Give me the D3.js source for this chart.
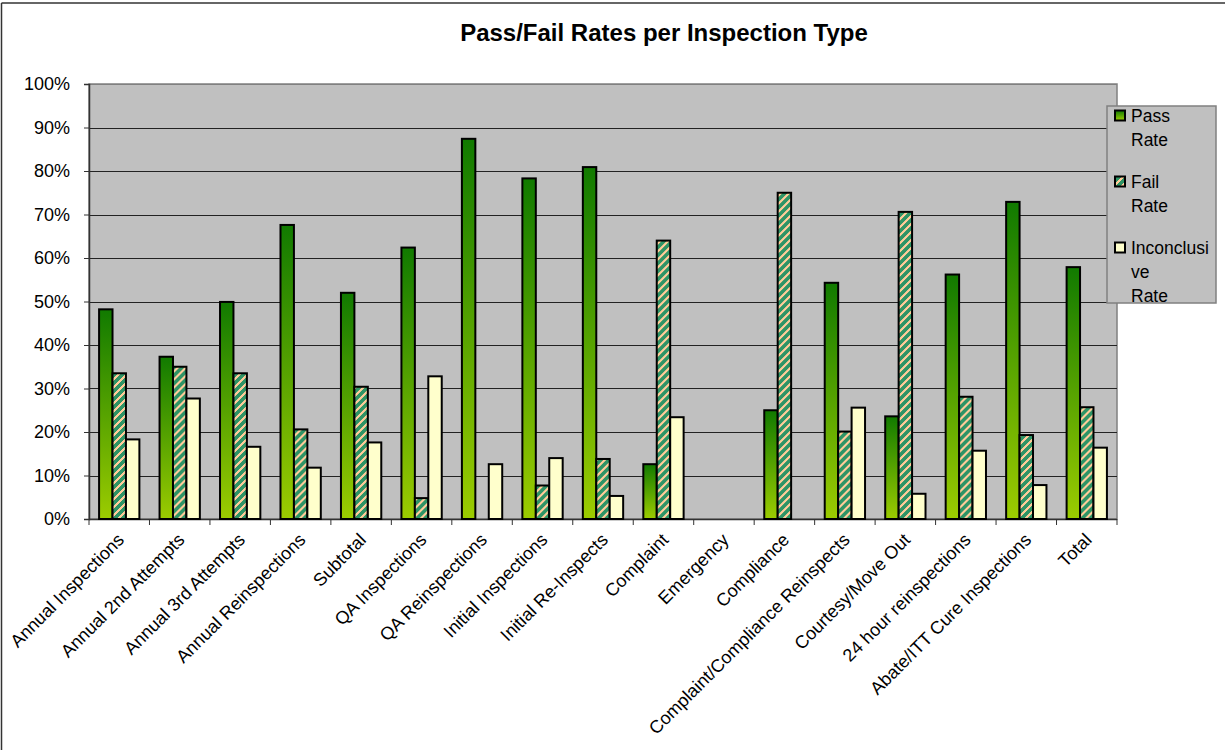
<!DOCTYPE html>
<html>
<head>
<meta charset="utf-8">
<script src="https://cdn.jsdelivr.net/npm/d3@7/dist/d3.min.js"></script>
<style>
  html, body { margin: 0; padding: 0; background: #fff; }
  svg { display: block; }
  text { font-family: "Liberation Sans", Arial, sans-serif; fill: #000; }
</style>
</head>
<body>
<svg id="chart" width="1225" height="750"></svg>
<script>
// Inspection categories and rates (percent)
const categories = [
  "Annual Inspections", "Annual 2nd Attempts", "Annual 3rd Attempts", "Annual Reinspections",
  "Subtotal", "QA Inspections", "QA Reinspections", "Initial Inspections", "Initial Re-Inspects",
  "Complaint", "Emergency", "Compliance", "Complaint/Compliance Reinspects", "Courtesy/Move Out",
  "24 hour reinspections", "Abate/ITT Cure Inspections", "Total"
];
const passRate = [48.2, 37.3, 49.9, 67.6, 52.0, 62.4, 87.4, 78.3, 80.9, 12.6, 0, 25.0, 54.3, 23.6, 56.2, 72.9, 57.9];
const failRate = [33.5, 35.0, 33.5, 20.6, 30.4, 4.8, 0, 7.7, 13.8, 64.0, 0, 75.0, 20.1, 70.6, 28.1, 19.3, 25.7];
const inconclusiveRate = [18.3, 27.7, 16.6, 11.8, 17.6, 32.8, 12.6, 14.0, 5.3, 23.4, 0, 0, 25.6, 5.8, 15.7, 7.8, 16.4];
const seriesNames = ["Pass Rate", "Fail Rate", "Inconclusive Rate"];
const yTicks = [0, 10, 20, 30, 40, 50, 60, 70, 80, 90, 100];

const series = [
  { name: seriesNames[0], values: passRate, fill: "url(#passGrad)" },
  { name: seriesNames[1], values: failRate, fill: "url(#failPattern)" },
  { name: seriesNames[2], values: inconclusiveRate, fill: "#FFFFCC" }
];

const svg = d3.select("#chart");
const plot = { left: 89, right: 1117, top: 84, bottom: 519 };

// Definitions: gradient for pass bars, diagonal hatch for fail bars
const defs = svg.append("defs");
const grad = defs.append("linearGradient")
  .attr("id", "passGrad").attr("x1", 0).attr("y1", 0).attr("x2", 0).attr("y2", 1);
grad.append("stop").attr("offset", "0%").attr("stop-color", "#117A00");
grad.append("stop").attr("offset", "100%").attr("stop-color", "#9CCC00");

const pat = defs.append("pattern")
  .attr("id", "failPattern").attr("patternUnits", "userSpaceOnUse")
  .attr("width", 8).attr("height", 8);
pat.append("rect").attr("width", 8).attr("height", 8).attr("fill", "#FFCC99");
pat.append("path")
  .attr("d", "M-1,9 L9,-1 M-3,3 L3,-3 M5,11 L11,5")
  .attr("stroke", "#2E9466").attr("stroke-width", 3)
  .attr("shape-rendering", "crispEdges");

// Outer chart frame (top and left edges visible)
svg.append("line").attr("x1", 1.5).attr("x2", 1225).attr("y1", 3).attr("y2", 3)
  .attr("stroke", "#333").attr("stroke-width", 1.5);
svg.append("line").attr("x1", 1.5).attr("x2", 1.5).attr("y1", 3).attr("y2", 750)
  .attr("stroke", "#333").attr("stroke-width", 1.5);

// Title
svg.append("text")
  .attr("x", 664).attr("y", 41)
  .attr("text-anchor", "middle")
  .attr("font-size", 24).attr("font-weight", "bold")
  .text("Pass/Fail Rates per Inspection Type");

// Scales
const x0 = d3.scaleBand().domain(categories).range([plot.left, plot.right]).paddingInner(0).paddingOuter(0);
const groupPad = 0.5 * 1.5 / (3 + 1.5);
const x1 = d3.scaleBand().domain(seriesNames)
  .range([x0.bandwidth() * groupPad, x0.bandwidth() * (1 - groupPad)]).padding(0);
const y = d3.scaleLinear().domain([0, 100]).range([plot.bottom, plot.top]);

// Plot background
svg.append("rect")
  .attr("x", plot.left).attr("y", plot.top)
  .attr("width", plot.right - plot.left).attr("height", plot.bottom - plot.top)
  .attr("fill", "#C0C0C0").attr("stroke", "#808080").attr("stroke-width", 1.5);

// Gridlines
svg.append("g").selectAll("line")
  .data(yTicks.filter(d => d > 0))
  .join("line")
  .attr("x1", plot.left).attr("x2", plot.right)
  .attr("y1", d => Math.round(y(d)) + 0.5).attr("y2", d => Math.round(y(d)) + 0.5)
  .attr("stroke", d => d === 100 ? "#808080" : "#222").attr("stroke-width", 1);

// Y axis
const yAxis = svg.append("g")
  .attr("transform", `translate(${plot.left},0)`)
  .call(d3.axisLeft(y).tickValues(yTicks).tickFormat(d => d + "%").tickSize(5).tickPadding(14));
yAxis.select(".domain").attr("stroke", "#333").attr("stroke-width", 1.5);
yAxis.selectAll(".tick line").attr("stroke", "#333");
yAxis.selectAll(".tick text")
  .attr("font-size", 18).attr("font-family", "Liberation Sans, Arial, sans-serif").attr("fill", "#000");

// X axis: ticks at band boundaries
const xAxisG = svg.append("g");
xAxisG.append("line")
  .attr("x1", plot.left).attr("x2", plot.right)
  .attr("y1", plot.bottom + 0.5).attr("y2", plot.bottom + 0.5)
  .attr("stroke", "#333").attr("stroke-width", 1.5);
const boundaries = categories.map(c => x0(c)).concat([plot.right]);
xAxisG.selectAll("line.tk")
  .data(boundaries)
  .join("line").attr("class", "tk")
  .attr("x1", d => d).attr("x2", d => d)
  .attr("y1", plot.bottom).attr("y2", plot.bottom + 6)
  .attr("stroke", "#333");

// Category labels rotated
xAxisG.selectAll("text.cat")
  .data(categories)
  .join("text").attr("class", "cat")
  .attr("font-size", 18)
  .attr("text-anchor", "end")
  .attr("transform", d => {
    const cx = x0(d) + x0.bandwidth() / 2 + 6;
    return `translate(${cx},541) rotate(-45)`;
  })
  .text(d => d);

// Bars
const groups = svg.append("g").selectAll("g")
  .data(categories)
  .join("g")
  .attr("transform", d => `translate(${x0(d)},0)`);

groups.selectAll("rect")
  .data((d, i) => series.map(s => ({ key: s.name, value: s.values[i], fill: s.fill })).filter(e => e.value > 0))
  .join("rect")
  .attr("x", d => x1(d.key))
  .attr("y", d => y(d.value))
  .attr("width", x1.bandwidth())
  .attr("height", d => y(0) - y(d.value))
  .attr("fill", d => d.fill)
  .attr("stroke", "#000").attr("stroke-width", 2);

// Legend
const legend = svg.append("g");
legend.append("rect")
  .attr("x", 1107).attr("y", 106).attr("width", 109).attr("height", 197)
  .attr("fill", "#C0C0C0").attr("stroke", "#808080").attr("stroke-width", 1.5);

const legendLines = [["Pass", "Rate"], ["Fail", "Rate"], ["Inconclusi", "ve", "Rate"]];
const legendFirstBaseline = [121.5, 187.5, 253.5];
series.forEach((s, i) => {
  const by = legendFirstBaseline[i];
  legend.append("rect")
    .attr("x", 1115).attr("y", by - 11).attr("width", 10).attr("height", 10)
    .attr("fill", s.fill).attr("stroke", "#000").attr("stroke-width", 2);
  legendLines[i].forEach((t, j) => {
    legend.append("text")
      .attr("x", 1131).attr("y", by + j * 24)
      .attr("font-size", 17.5)
      .text(t);
  });
});
</script>
</body>
</html>
